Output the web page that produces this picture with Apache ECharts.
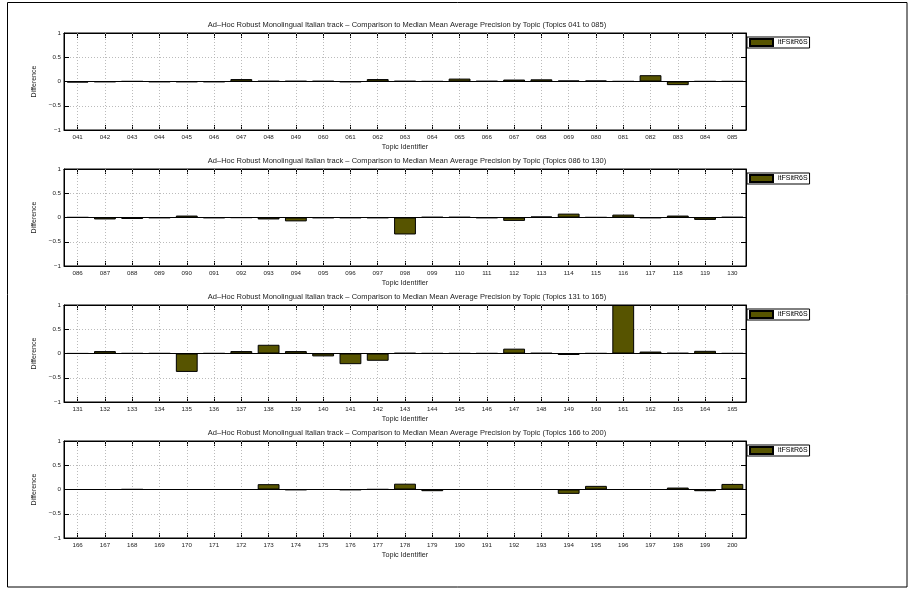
<!DOCTYPE html>
<html>
<head>
<meta charset="utf-8">
<script src="https://cdn.jsdelivr.net/npm/echarts@6/dist/echarts.min.js"></script>
<style>html,body{margin:0;padding:0;background:#fff;}#c{width:916px;height:589px;}</style>
</head>
<body>
<div id="c"></div>
<script>
var seriesName = 'itFSitR6S';
var titles = [
  'Ad\u2013Hoc Robust Monolingual Italian track \u2013 Comparison to Median Mean Average Precision by Topic (Topics 041 to 085)',
  'Ad\u2013Hoc Robust Monolingual Italian track \u2013 Comparison to Median Mean Average Precision by Topic (Topics 086 to 130)',
  'Ad\u2013Hoc Robust Monolingual Italian track \u2013 Comparison to Median Mean Average Precision by Topic (Topics 131 to 165)',
  'Ad\u2013Hoc Robust Monolingual Italian track \u2013 Comparison to Median Mean Average Precision by Topic (Topics 166 to 200)'
];
var topics1 = ['041','042','043','044','045','046','047','048','049','060','061','062','063','064','065','066','067','068','069','080','081','082','083','084','085'];
var topics2 = ['086','087','088','089','090','091','092','093','094','095','096','097','098','099','110','111','112','113','114','115','116','117','118','119','130'];
var topics3 = ['131','132','133','134','135','136','137','138','139','140','141','142','143','144','145','146','147','148','149','160','161','162','163','164','165'];
var topics4 = ['166','167','168','169','170','171','172','173','174','175','176','177','178','179','190','191','192','193','194','195','196','197','198','199','200'];
var values1 = [-0.02,-0.01,0.005,-0.01,-0.01,-0.01,0.05,0.01,0.01,0.01,-0.01,0.05,0.01,0.005,0.06,0.01,0.04,0.045,0.02,0.02,0.005,0.13,-0.075,0.005,0.005];
var values2 = [0.005,-0.04,-0.03,-0.01,0.04,-0.01,-0.005,-0.04,-0.08,-0.01,-0.01,-0.01,-0.35,0.01,0.01,-0.01,-0.07,0.02,0.08,0.005,0.06,-0.01,0.04,-0.05,0.01];
var values3 = [0.002,0.05,0.005,0.005,-0.38,0.005,0.05,0.18,0.05,-0.06,-0.22,-0.15,0.01,0.005,0.005,0.005,0.10,0.01,-0.03,0.005,1.0,0.04,0.01,0.055,0.005];
var values4 = [0,0,0.005,0,0,0,0,0.11,-0.01,0,-0.01,0.005,0.12,-0.035,0,0,0,0,-0.09,0.075,0,0,0.04,-0.035,0.115];
var yMin = -1, yMax = 1, yInterval = 0.5;

var topicsAll = [topics1, topics2, topics3, topics4];
var valuesAll = [values1, values2, values3, values4];

var FONT = 'Liberation Sans, Arial, sans-serif';
var gridTops = [33, 169, 305, 441];
var gridH = 97;
var gridLeft = 64, gridW = 682;

var option = {
  backgroundColor: '#fff',
  animation: false,
  title: [], legend: [], grid: [], xAxis: [], yAxis: [], series: [],
  graphic: [{
    type: 'rect', shape: {x: 7.5, y: 2.5, width: 899.5, height: 584.5},
    style: {fill: 'none', stroke: '#000', lineWidth: 1}, silent: true
  }]
};

for (var i = 0; i < 4; i++) {
  var gTop = gridTops[i];
  option.title.push({
    text: titles[i], left: gridLeft + gridW / 2 + 2, textAlign: 'center', top: gTop - 12,
    padding: 0, itemGap: 0,
    textStyle: {fontSize: 7.5, fontWeight: 'normal', color: '#222', fontFamily: FONT}
  });
  option.legend.push({
    data: [seriesName], left: 747, top: gTop + 4,
    orient: 'vertical', padding: [1, 2, 1, 2],
    itemWidth: 23, itemHeight: 7, borderColor: '#000', borderWidth: 1,
    backgroundColor: '#fff', selectedMode: false,
    textStyle: {fontSize: 7, color: '#000', fontFamily: FONT},
    icon: 'rect'
  });
  option.grid.push({
    left: gridLeft, top: gTop, width: gridW, height: gridH,
    show: true, borderColor: '#000', borderWidth: 1, backgroundColor: '#fff'
  });
  option.xAxis.push({
    type: 'category', gridIndex: i, data: topicsAll[i], position: 'bottom',
    name: 'Topic Identifier', nameLocation: 'middle', nameGap: 14,
    nameTextStyle: {fontSize: 7.2, color: '#222', fontFamily: FONT},
    axisLine: {show: true, onZero: false, lineStyle: {color: '#000'}},
    axisTick: {show: true, inside: true, alignWithLabel: true, length: 5, lineStyle: {color: '#000'}},
    axisLabel: {fontSize: 6.2, color: '#222', fontFamily: FONT, margin: 4, interval: 0},
    splitLine: {show: false}
  });
  option.xAxis.push({
    type: 'category', gridIndex: i, data: topicsAll[i], position: 'top',
    axisLine: {show: true, onZero: false, lineStyle: {color: '#000'}},
    axisTick: {show: true, inside: true, alignWithLabel: true, length: 5, lineStyle: {color: '#000'}},
    axisLabel: {show: false}, splitLine: {show: false}
  });
  option.yAxis.push({
    type: 'value', gridIndex: i, min: yMin, max: yMax, interval: yInterval,
    position: 'left',
    name: 'Difference', nameLocation: 'middle', nameGap: 20,
    nameTextStyle: {fontSize: 7, color: '#222', fontFamily: FONT},
    axisLine: {show: true, onZero: false, lineStyle: {color: '#000'}},
    axisTick: {show: true, inside: true, length: 5, lineStyle: {color: '#000'}},
    axisLabel: {fontSize: 6.2, color: '#222', fontFamily: FONT, margin: 3,
      formatter: function (v) { return String(v).replace('-', '\u2212'); }},
    splitLine: {show: true, lineStyle: {color: '#aaa', type: [1, 2], width: 0.8}}
  });
  option.yAxis.push({
    type: 'value', gridIndex: i, min: yMin, max: yMax, interval: yInterval,
    position: 'right',
    axisLine: {show: true, onZero: false, lineStyle: {color: '#000'}},
    axisTick: {show: true, inside: true, length: 5, lineStyle: {color: '#000'}},
    axisLabel: {show: false}, splitLine: {show: false}
  });
  var vlines = topicsAll[i].map(function (t) { return {xAxis: t}; });
  option.series.push({
    name: seriesName, type: 'bar', xAxisIndex: i * 2, yAxisIndex: i * 2,
    data: valuesAll[i], barWidth: '80%', z: 3,
    itemStyle: {color: '#575400', borderColor: '#000', borderWidth: 1},
    markLine: {
      silent: true, symbol: 'none', label: {show: false}, z: 1,
      lineStyle: {color: '#aaa', type: [1, 2], width: 0.8},
      data: vlines
    }
  });
  option.series.push({
    name: '_zero' + i, type: 'line', xAxisIndex: i * 2, yAxisIndex: i * 2,
    data: [], silent: true,
    markLine: {
      silent: true, symbol: 'none', label: {show: false}, z: 4,
      lineStyle: {color: '#000', type: 'solid', width: 1},
      data: [{yAxis: 0}]
    }
  });
}

var chart = echarts.init(document.getElementById('c'), null, {renderer: 'canvas'});
chart.setOption(option);
</script>
</body>
</html>
